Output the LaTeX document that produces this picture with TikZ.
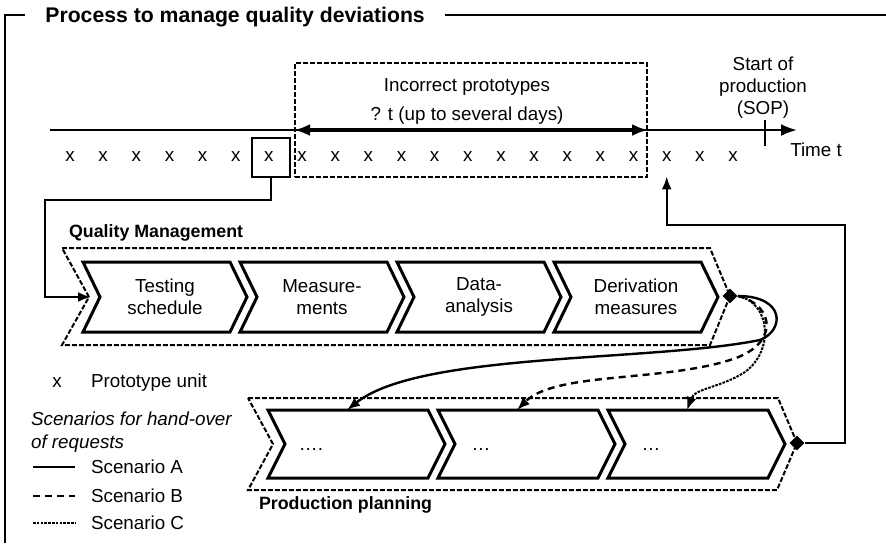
\documentclass[tikz,border=0pt]{standalone}
\usepackage{fontspec}
\setmainfont{Liberation Sans}
\usetikzlibrary{arrows.meta,shapes.geometric}

\begin{document}
\begin{tikzpicture}[
    x=0.5pt, y=-0.5pt,
    every node/.style={
        font=\fontsize{9.4}{11}\selectfont,
        align=center
    },
    heading/.style={font=\bfseries\fontsize{10.6}{12}\selectfont,
        inner xsep=10pt, text depth=0pt},
    lanetitle/.style={font=\bfseries\fontsize{8.9}{11}\selectfont, anchor=west},
    proto/.style={inner xsep=1pt, inner ysep=7pt},
    border/.style={line width=1.4pt},
    chev/.style={draw, line width=1.5pt},
    lanebox/.style={draw, line width=1pt, dash pattern=on 2.5pt off 1pt},
    headed/.style={-{Latex[length=6.5pt,width=5pt]}},
    conn/.style={line width=1.2pt, headed},
    scen a/.style={line width=1.2pt},
    scen b/.style={line width=1.2pt, dash pattern=on 3.5pt off 2.5pt},
    scen c/.style={line width=1pt, dash pattern=on 1.3pt off 0.6pt},
    junction/.style={diamond, fill, inner sep=0pt, minimum size=7.5pt}
]
\useasboundingbox (0,0) rectangle (886,543);

% frame and title
\node[heading, anchor=west] (title) at (25,15) {Process to manage quality deviations};
\draw[border] (5,543) -- (5,15) -- (title.west);
\draw[border] (title.east) -- (886,15);

% time line
\coordinate (tstart) at (50,130);
\coordinate (tend) at (797,130);
\draw[line width=1.2pt, -{Latex[length=8pt,width=6pt]}] (tstart) -- (tend);
\draw[line width=1.2pt] (765,120) -- (765,146);
\node (sop) at (763,88) {Start of\\production\\(SOP)};
\node (time) at (816,150) {Time t};

\foreach \i in {0,...,20}
    \node[proto] (u\i) at (70+33.15*\i,157) {x};
\node[draw, line width=1.4pt, minimum width=19pt, minimum height=19.5pt,
    inner sep=0pt] (sample) at (271,157.5) {};

\node[lanebox, minimum width=176pt, minimum height=57pt, inner sep=0pt]
    (incorrect) at (471,120) {};
\node (inctext) at (467,87) {Incorrect prototypes};
\node (duration) at (467,116) {? t (up to several days)};
\draw[line width=1.8pt, {Latex[length=8pt,width=6pt]}-{Latex[length=8pt,width=6pt]}]
    (incorrect.west |- tend) -- (incorrect.east |- tend);

% quality management
\node[junction] (qmout) at (730,296) {};
\draw[lanebox] (62,248) -- (710,248) -- (qmout.center) -- (710,345)
    -- (62,345) -- (89,297) -- cycle;
\node[lanetitle] (qmtitle) at (62,233) {Quality Management};
\foreach \i/\txt in {0/{Testing\\schedule}, 1/{Measure-\\ments},
        2/{Data-\\analysis}, 3/{Derivation\\measures}} {
    \draw[chev] (83+157*\i,262) -- ++(147,0) -- ++(17,35) -- ++(-17,35)
        -- ++(-147,0) -- ++(17,-35) -- cycle;
    \node (qm\i) at (165+157*\i,297) {\txt};
}

% production planning
\node[junction] (ppout) at (797,443) {};
\draw[lanebox] (248,398) -- (778,398) -- (ppout.center) -- (777,490)
    -- (248,490) -- (273,444) -- cycle;
\node[lanetitle] (pptitle) at (252,505) {Production planning};
\foreach \i/\txt in {0/{….}, 1/{…}, 2/{…}} {
    \draw[chev] (268+170*\i,410) -- ++(160,0) -- ++(17,34) -- ++(-17,34)
        -- ++(-160,0) -- ++(17,-34) -- cycle;
    \node (pp\i) at (311+170*\i,449) {\txt};
    \coordinate (in\i) at (347+170*\i,410);
}

% connectors
\coordinate (bend) at (45,200);
\coordinate (qmin) at (91,297);
\draw[conn] (sample.south) |- (bend) |- (qmin);
\coordinate (turn) at (845,225);
\draw[conn] (ppout.east) -| (turn) -| (u18.south);

\draw[scen a, headed] (qmout.east) .. controls (785,296) and (785,330) .. (760,340)
    .. controls (650,362) and (420,352) .. (in0);
\draw[scen b, headed] (qmout.east) .. controls (775,305) and (780,345) .. (730,360)
    .. controls (660,382) and (555,372) .. (in1);
\draw[scen c, headed] (qmout.east) .. controls (770,302) and (775,350) .. (745,372)
    .. controls (720,388) and (695,388) .. (in2);

% legend
\node (legx) at (57,383) {x};
\node[anchor=west] (legunit) at (84,383) {Prototype unit};
\node[anchor=west, align=left, font=\itshape\fontsize{9.4}{11.5}\selectfont]
    (legtitle) at (24,432) {Scenarios for hand-over\\of requests};
\node[anchor=west] (lega) at (84,467) {Scenario A};
\node[anchor=west] (legb) at (84,496) {Scenario B};
\node[anchor=west] (legc) at (84,523) {Scenario C};
\draw[scen a] (33,467) -- (75,467);
\draw[scen b] (33,496) -- (75,496);
\draw[scen c] (33,523) -- (75,523);
\end{tikzpicture}
\end{document}
